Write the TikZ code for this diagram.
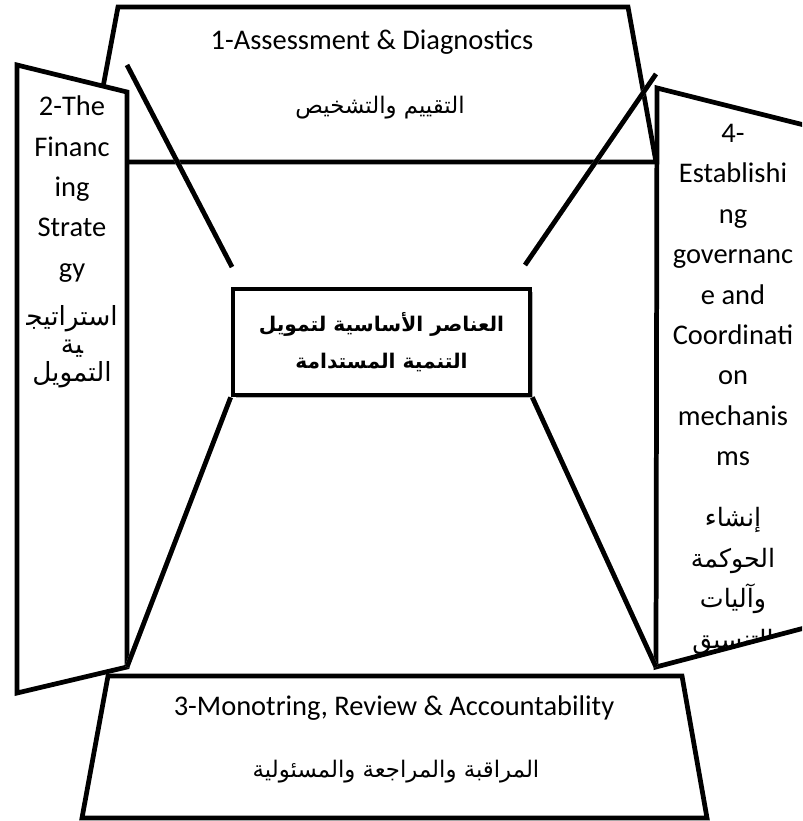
\documentclass[tikz,border=0pt]{standalone}
\usepackage{fontspec}
\setmainfont{Carlito}
\newfontfamily\arabicfont[Script=Arabic]{DejaVu Sans}
\TeXXeTstate=1
\usetikzlibrary{shadows}

\tikzset{
  panel/.style={draw, line width=2.7pt, fill=white, line join=miter},
  ray/.style={line width=2.7pt},
  rayshade/.style={line width=2.7pt, black!30, xshift=0.05cm, yshift=-0.05cm},
  entext/.style={font=\fontsize{16.2}{23}\selectfont, align=center, inner sep=0pt},
  artext/.style={font=\arabicfont\fontsize{13}{16}\selectfont, align=center, inner sep=0pt},
  corebox/.style={draw, line width=2.7pt, fill=white, minimum width=5.94cm, minimum height=2.12cm,
    align=center, inner sep=0pt, font=\arabicfont\bfseries\fontsize{11.5}{21}\selectfont,
    drop shadow={shadow xshift=0.06cm, shadow yshift=-0.06cm, fill=black!30, opacity=1}},
}

\begin{document}
\begin{tikzpicture}[x=0.02cm, y=-0.02cm]
\useasboundingbox (0,0) rectangle (802,821);
\clip (0,0) rectangle (802,821);

% --- corners of the four faces ---
\coordinate (t1) at (118,7);  \coordinate (t2) at (628,7);
\coordinate (t3) at (656,162); \coordinate (t4) at (89,162);
\coordinate (b1) at (108,676); \coordinate (b2) at (682,676);
\coordinate (b3) at (707,818); \coordinate (b4) at (82,818);
\coordinate (l1) at (17,65);   \coordinate (l2) at (127,92);
\coordinate (l3) at (127,667); \coordinate (l4) at (17,693);
\coordinate (r1) at (657,88);  \coordinate (r2) at (812,127);
\coordinate (r3) at (812,626); \coordinate (r4) at (656,667);

% --- top and bottom faces ---
\draw[panel] (t1) -- (t2) -- (t3) -- (t4) -- cycle;
\draw[panel] (b1) -- (b2) -- (b3) -- (b4) -- cycle;

\node[entext] (assess) at (372,42) {1-Assessment \& Diagnostics};
\node[artext] (assessar) at (380,108) {\beginR التقييم والتشخيص\endR};
\node[entext] (monitor) at (394,708) {3-Monotring, Review \& Accountability};
\node[artext] (monitorar) at (396,772) {\beginR المراقبة والمراجعة والمسئولية\endR};

% --- left face ---
\draw[panel] (l1) -- (l2) -- (l3) -- (l4) -- cycle;
\node[entext] (strategy) at (72,189) {2-The\\Financ\\ing\\Strate\\gy};
\node[artext, font=\arabicfont\fontsize{15}{16}\selectfont] (strategyar) at (72,347)
  {\beginR استراتيج^^^^200d\endR\\\beginR ^^^^200dية\endR\\\beginR التمويل\endR};

% --- right face (text clipped by the face) ---
\fill[white] (r1) -- (r2) -- (r3) -- (r4) -- cycle;
\node[entext] (govern) at (733,295) {4-\\Establishi\\ng\\governanc\\e and\\Coordinati\\on\\mechanis\\ms};
\begin{scope}
  \clip (r1) -- (r2) -- (r3) -- (r4) -- cycle;
  \node[artext, font=\arabicfont\fontsize{14.4}{23.3}\selectfont] (governar) at (733,581)
    {\beginR إنشاء\endR\\\beginR الحوكمة\endR\\\beginR وآليات\endR\\\beginR التنسيق\endR};
\end{scope}
\draw[line width=2.7pt, line join=miter] (r1) -- (r2) -- (r3) -- (r4) -- cycle;

% --- centre box ---
\node[corebox] (core) at (381.5,342)
  {\beginR العناصر الأساسية لتمويل\endR\\\beginR التنمية المستدامة\endR};

% --- rays ---
\coordinate (ul0) at (127,65);  \coordinate (ul1) at (232,267);
\coordinate (ur0) at (656,74);  \coordinate (ur1) at (525,265);
\draw[rayshade] (ul0) -- (ul1);
\draw[rayshade] (ur0) -- (ur1);
\draw[rayshade] (core.south west) -- (l3);
\draw[rayshade] (core.south east) -- (r4);
\draw[ray] (ul0) -- (ul1);
\draw[ray] (ur0) -- (ur1);
\draw[ray] (core.south west) -- (l3);
\draw[ray] (core.south east) -- (r4);

\end{tikzpicture}
\end{document}
